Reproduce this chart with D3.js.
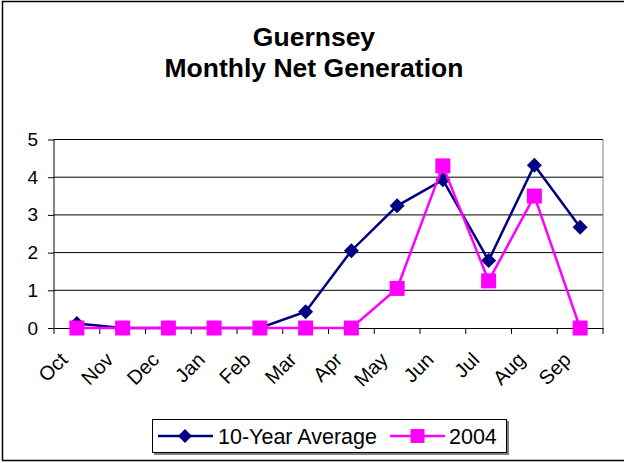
<!DOCTYPE html>
<html><head><meta charset="utf-8">
<script src="https://cdn.jsdelivr.net/npm/d3@7"></script>
<style>body{margin:0;background:#fff}svg{display:block;font-family:Arial,"Liberation Sans",sans-serif}</style>
</head><body><svg id="c" width="624" height="463"></svg>
<script>
const months = ["Oct","Nov","Dec","Jan","Feb","Mar","Apr","May","Jun","Jul","Aug","Sep"];
const avg10 = [0.12,0,0,0,0,0.43,2.05,3.24,3.93,1.79,4.32,2.67];
const y2004 = [0,0,0,0,0,0,0,1.05,4.3,1.25,3.5,0];
const yTicks = [0,1,2,3,4,5];
const seriesNames = ["10-Year Average","2004"];
const colors = ["#000080","#FF00FF"];

const svg = d3.select("#c");
svg.append("rect").attr("x",2.5).attr("y",1.5).attr("width",624).attr("height",459)
  .attr("fill","#fff").attr("stroke","#000").attr("stroke-width",1.5);

svg.append("text").attr("x",314).attr("y",46).attr("text-anchor","middle")
  .attr("font-weight","bold").attr("font-size",26.5).text("Guernsey");
svg.append("text").attr("x",314).attr("y",77).attr("text-anchor","middle")
  .attr("font-weight","bold").attr("font-size",26.5).text("Monthly Net Generation");

const L=54, R=603, T=139.5, B=328;
const x = d3.scaleBand().domain(months).range([L,R]);
const y = d3.scaleLinear().domain([0,5]).range([B,T]);

svg.append("g").selectAll("line").data(yTicks.filter(d=>d>0)).join("line")
  .attr("x1",L).attr("x2",R).attr("y1",d=>y(d)).attr("y2",d=>y(d))
  .attr("stroke","#000").attr("stroke-width",1);
svg.append("line").attr("x1",R).attr("x2",R).attr("y1",T).attr("y2",B).attr("stroke","#808080");

const ya = svg.append("g").attr("transform",`translate(${L},0)`)
  .call(d3.axisLeft(y).tickValues(yTicks).tickSize(6).tickPadding(10).tickFormat(d3.format("d")));
ya.selectAll("text").attr("font-size",19).attr("fill","#000").attr("font-family","Arial,'Liberation Sans',sans-serif");
ya.selectAll("line,path").attr("stroke","#000");
ya.select(".domain").attr("d",`M0,${T}V${B}`);

const xa = svg.append("g").attr("transform",`translate(0,${B})`)
  .call(d3.axisBottom(x).tickSize(0).tickFormat(""));
xa.select(".domain").attr("stroke","#000");
svg.append("g").selectAll("line").data(d3.range(months.length+1)).join("line")
  .attr("x1",i=>L+i*x.step()).attr("x2",i=>L+i*x.step()).attr("y1",B).attr("y2",B+6).attr("stroke","#000");
svg.append("g").selectAll("text").data(months).join("text")
  .attr("transform",d=>`translate(${x(d)+x.bandwidth()/2-8},${B+33}) rotate(-45)`)
  .attr("text-anchor","end").attr("font-size",20).attr("fill","#000").text(d=>d);

const cx = d => x(d)+x.bandwidth()/2;
const line = d3.line().x((d,i)=>cx(months[i])).y(d=>y(d));

svg.append("path").datum(avg10).attr("d",line).attr("fill","none").attr("stroke",colors[0]).attr("stroke-width",2.5);
svg.append("g").selectAll("path").data(avg10).join("path")
  .attr("d","M0,-7.5L7.5,0L0,7.5L-7.5,0Z").attr("fill",colors[0])
  .attr("transform",(d,i)=>`translate(${cx(months[i])},${y(d)})`);
svg.append("path").datum(y2004).attr("d",line).attr("fill","none").attr("stroke",colors[1]).attr("stroke-width",2.5);
svg.append("g").selectAll("rect").data(y2004).join("rect")
  .attr("x",(d,i)=>cx(months[i])-7.5).attr("y",d=>y(d)-7.5).attr("width",15).attr("height",15).attr("fill",colors[1]);

const lg = svg.append("g");
lg.append("rect").attr("x",154).attr("y",421).attr("width",355).attr("height",34).attr("fill","#808080");
lg.append("rect").attr("x",152.5).attr("y",419.5).attr("width",354).attr("height",33).attr("fill","#fff").attr("stroke","#000");
const items = [{x0:158,tx:218},{x0:390,tx:449}];
items.forEach((it,k)=>{
  lg.append("line").attr("x1",it.x0).attr("x2",it.x0+55).attr("y1",436).attr("y2",436).attr("stroke",colors[k]).attr("stroke-width",2.5);
  if(k===0) lg.append("path").attr("d","M0,-7L7,0L0,7L-7,0Z").attr("fill",colors[0]).attr("transform",`translate(${it.x0+27},436)`);
  else lg.append("rect").attr("x",it.x0+27.5-7).attr("y",429).attr("width",14).attr("height",14).attr("fill",colors[1]);
  lg.append("text").attr("x",it.tx).attr("y",444).attr("font-size",21.5).attr("fill","#000").text(seriesNames[k]);
});
</script></body></html>
